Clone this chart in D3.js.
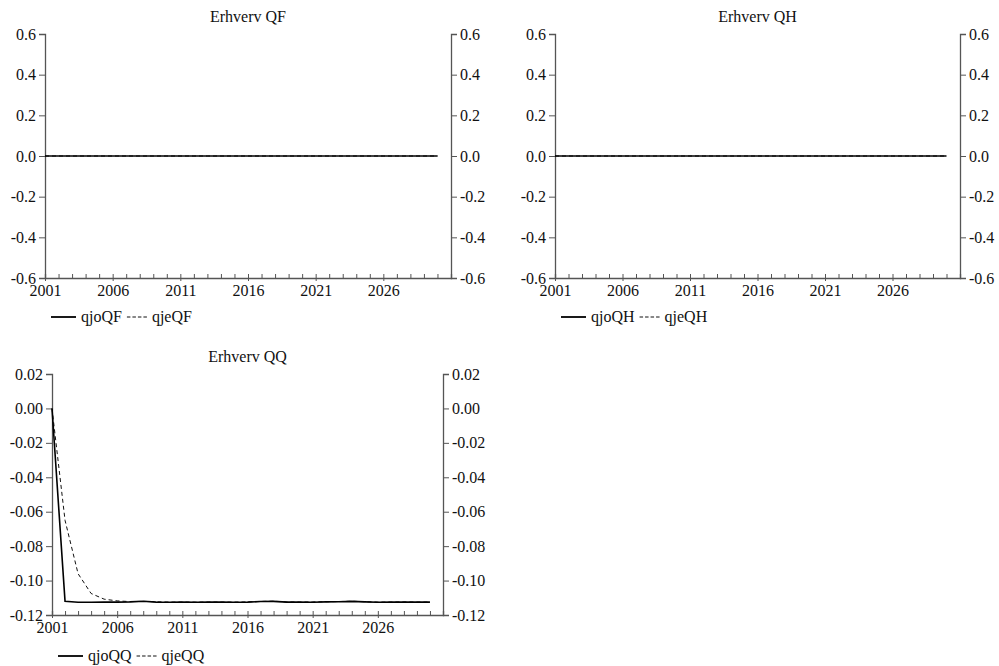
<!DOCTYPE html>
<html><head><meta charset="utf-8">
<script src="https://cdn.jsdelivr.net/npm/d3@7"></script>
<style>
body{margin:0;background:#fff;}
svg text{font-family:"Liberation Serif","Times New Roman",serif !important;fill:#111;}
</style></head>
<body>
<svg id="c" width="999" height="666"></svg>
<script>
const years = d3.range(2001, 2031);
const yearLabels = [2001, 2006, 2011, 2016, 2021, 2026];
const qjoQF = years.map(() => 0);
const qjeQF = years.map(() => 0);
const qjoQH = years.map(() => 0);
const qjeQH = years.map(() => 0);
const qjoQQ = [0, -0.1120, -0.1126, -0.1126, -0.1125, -0.1125, -0.1124, -0.1120, -0.1125, -0.1126,
  -0.1125, -0.1126, -0.1125, -0.1125, -0.1126, -0.1125, -0.1122, -0.1121, -0.1125, -0.1125,
  -0.1126, -0.1124, -0.1123, -0.1121, -0.1124, -0.1126, -0.1125, -0.1125, -0.1125, -0.1125];
const qjeQQ = [0, -0.065, -0.096, -0.1075, -0.1108, -0.1118, -0.1122, -0.1121, -0.1123, -0.1125,
  -0.1125, -0.1125, -0.1125, -0.1125, -0.1125, -0.1124, -0.1121, -0.1120, -0.1124, -0.1125,
  -0.1124, -0.1123, -0.1122, -0.1120, -0.1123, -0.1125, -0.1125, -0.1124, -0.1125, -0.1125];
const ticksQF = [-0.6, -0.4, -0.2, 0, 0.2, 0.4, 0.6];
const ticksQQ = [-0.12, -0.10, -0.08, -0.06, -0.04, -0.02, 0, 0.02];

const panels = [
  {title: "Erhverv QF", names: ["qjoQF", "qjeQF"], s: [qjoQF, qjeQF], ticks: ticksQF, fmt: d3.format(".1f"),
   L: 45, R: 451, T: 34, B: 278, legY: 317},
  {title: "Erhverv QH", names: ["qjoQH", "qjeQH"], s: [qjoQH, qjeQH], ticks: ticksQF, fmt: d3.format(".1f"),
   L: 555, R: 960, T: 34, B: 278, legY: 317},
  {title: "Erhverv QQ", names: ["qjoQQ", "qjeQQ"], s: [qjoQQ, qjeQQ], ticks: ticksQQ, fmt: d3.format(".2f"),
   L: 52, R: 443, T: 374, B: 615, legY: 656},
];

const svg = d3.select("#c");
const axisCol = "#555";
const FONT = '"Liberation Serif","Times New Roman",serif';
const fmtMinus = f => v => f(v).replace("−", "-");

panels.forEach(p => {
  const g = svg.append("g");
  const x = d3.scaleLinear().domain([2001, 2031]).range([p.L, p.R]);
  const y = d3.scaleLinear().domain([p.ticks[0], p.ticks[p.ticks.length - 1]]).range([p.B, p.T]);

  g.append("text").attr("x", (p.L + p.R) / 2).attr("y", p.T - 12).attr("text-anchor", "middle")
    .style("font-family", FONT).style("font-size", "16px").text(p.title);

  const la = g.append("g").attr("transform", `translate(${p.L},0)`)
    .call(d3.axisLeft(y).tickValues(p.ticks).tickFormat(fmtMinus(p.fmt)).tickSize(6).tickPadding(3));
  const ra = g.append("g").attr("transform", `translate(${p.R},0)`)
    .call(d3.axisRight(y).tickValues(p.ticks).tickFormat(fmtMinus(p.fmt)).tickSize(6).tickPadding(3));
  [la, ra].forEach(a => {
    a.attr("font-family", null).attr("font-size", null);
    a.select(".domain").attr("stroke", axisCol).attr("stroke-width", 1.3);
    a.selectAll(".tick line").attr("stroke", axisCol);
    a.selectAll(".tick text").style("font-family", FONT).style("font-size", "16px").attr("fill", "#111");
  });

  const ba = g.append("g").attr("transform", `translate(0,${p.B})`)
    .call(d3.axisBottom(x).tickValues(years.concat([2031])).tickSize(-4).tickFormat(""));
  ba.select(".domain").attr("stroke", axisCol).attr("stroke-width", 1.3);
  ba.selectAll(".tick line").attr("stroke", axisCol);
  const bl = g.append("g").attr("transform", `translate(0,${p.B})`)
    .call(d3.axisBottom(x).tickValues(yearLabels).tickSize(3).tickPadding(4).tickFormat(d3.format("d")));
  bl.attr("font-family", null).attr("font-size", null);
  bl.select(".domain").remove();
  bl.selectAll(".tick line").attr("stroke", axisCol);
  bl.selectAll(".tick text").style("font-family", FONT).style("font-size", "16px").attr("fill", "#111");

  const line = d3.line().x((d, i) => x(years[i])).y(d => y(d));
  g.append("path").datum(p.s[1]).attr("d", line).attr("fill", "none").attr("stroke", "#111")
    .attr("stroke-width", 1).attr("stroke-dasharray", "4,3");
  g.append("path").datum(p.s[0]).attr("d", line).attr("fill", "none").attr("stroke", "#000")
    .attr("stroke-width", 1.6);

  const lx = p.L + 6;
  g.append("line").attr("x1", lx).attr("x2", lx + 25).attr("y1", p.legY).attr("y2", p.legY)
    .attr("stroke", "#000").attr("stroke-width", 1.8);
  const t1 = g.append("text").attr("x", lx + 30).attr("y", p.legY + 5)
    .style("font-family", FONT).style("font-size", "16px").text(p.names[0]);
  const w1 = t1.node().getComputedTextLength();
  const dx = lx + 30 + w1 + 5;
  g.append("line").attr("x1", dx).attr("x2", dx + 20).attr("y1", p.legY).attr("y2", p.legY)
    .attr("stroke", "#111").attr("stroke-width", 1).attr("stroke-dasharray", "3.5,2");
  g.append("text").attr("x", dx + 25).attr("y", p.legY + 5)
    .style("font-family", FONT).style("font-size", "16px").text(p.names[1]);
});
</script>
</body></html>
